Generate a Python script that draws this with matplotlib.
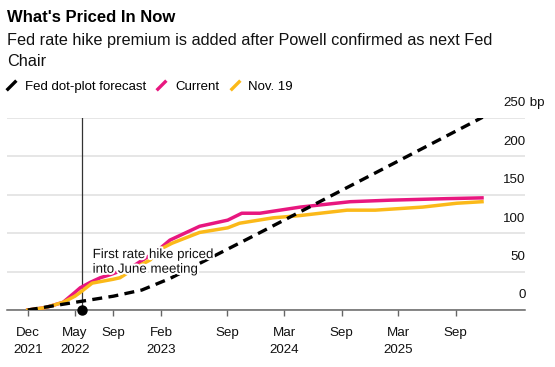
import numpy as np
import pandas as pd
import matplotlib.pyplot as plt
import matplotlib.patheffects as pe
from matplotlib.lines import Line2D

plt.rcParams['font.family'] = ['Liberation Sans', 'DejaVu Sans']

# Fed dot-plot forecast (bp)
dot_dates = pd.to_datetime(['2021-12-15', '2022-03-15', '2022-06-15', '2022-09-15',
                            '2022-12-15', '2023-03-15', '2023-12-15', '2024-12-15',
                            '2025-12-10'])
dot_bp = [0, 6, 12, 18, 26, 41, 98, 175, 251]

# market pricing now
cur_dates = pd.to_datetime(['2021-12-15', '2022-02-08', '2022-04-07', '2022-05-15',
                            '2022-06-01', '2022-07-03', '2022-08-04', '2022-09-05',
                            '2022-11-17', '2023-02-05', '2023-03-15', '2023-06-18',
                            '2023-09-16', '2023-10-31', '2023-12-28', '2024-05-05',
                            '2024-10-12', '2025-02-17', '2025-08-18', '2025-12-08'])
cur_bp = [0, 3, 10, 23, 29, 36, 42, 46, 57, 78, 91, 109, 117, 126, 126, 134,
          141, 143, 145, 146]

# market pricing on Nov. 19
nov_dates = pd.to_datetime(['2021-12-15', '2022-02-08', '2022-04-07', '2022-05-15',
                            '2022-06-01', '2022-07-09', '2022-09-14', '2022-10-06',
                            '2022-12-03', '2023-01-10', '2023-02-21', '2023-03-22',
                            '2023-06-18', '2023-09-16', '2023-10-24', '2024-02-08',
                            '2024-05-05', '2024-10-02', '2024-12-31', '2025-06-01',
                            '2025-09-18', '2025-12-08'])
nov_bp = [0, 3, 10, 18, 23, 35, 40, 42, 57, 65, 81, 87, 101, 107, 113, 120,
          123, 130, 130, 134, 139, 141]

tick_dates = pd.to_datetime(['2021-12-15', '2022-05-15', '2022-09-15', '2023-02-15',
                             '2023-09-15', '2024-03-15', '2024-09-15', '2025-03-15',
                             '2025-09-15'])
tick_labels = ['Dec\n2021', 'May\n2022', 'Sep', 'Feb\n2023', 'Sep', 'Mar\n2024',
               'Sep', 'Mar\n2025', 'Sep']
y_ticks = [0, 50, 100, 150, 200, 250]
hike_date = pd.Timestamp('2022-06-05')

pink = '#e8177f'
yellow = '#fbb919'
grey = '#666666'

fig = plt.figure(figsize=(5.55, 3.67), dpi=100)
ax = fig.add_axes([7/555, 57/367, 518/555, 192/367])

ax.plot(cur_dates, cur_bp, color=pink, lw=2.5, zorder=3)
ax.plot(nov_dates, nov_bp, color=yellow, lw=2.5, zorder=4)
ax.plot(dot_dates, dot_bp, color='black', lw=2.4, dashes=(3.0, 1.9), zorder=5)

ax.axvline(hike_date, color='#333333', lw=0.9, zorder=2)
ax.plot(hike_date, 0, 'o', ms=6.5, color='black', clip_on=False, zorder=6)
ax.annotate('First rate hike priced\ninto June meeting', xy=(hike_date, 62),
            xytext=(8, 0), textcoords='offset points', ha='left', va='center',
            fontsize=9.6, color='#111111', linespacing=1.3, zorder=7,
            path_effects=[pe.withStroke(linewidth=3, foreground='white')])

base = pd.Timestamp('2021-12-15')
ax.set_xlim(base - pd.Timedelta(days=66.6), base + pd.Timedelta(days=1591.6))
ax.set_ylim(0, 250)

ax.set_xticks(tick_dates)
ax.set_xticklabels(tick_labels, fontsize=9.6, linespacing=1.6)
ax.tick_params(axis='x', length=4, width=1, color=grey, pad=8, labelcolor='#111111')
ax.set_yticks(y_ticks)
ax.set_yticklabels([])
ax.tick_params(axis='y', length=0)
ax.grid(axis='y', color='#e2e2e2', lw=1.2)
ax.set_axisbelow(True)
for s in ['top', 'left', 'right']:
    ax.spines[s].set_visible(False)
ax.spines['bottom'].set_color(grey)
ax.spines['bottom'].set_linewidth(1.1)

for v in y_ticks:
    ax.annotate(str(v), xy=(1, v), xycoords=('axes fraction', 'data'),
                xytext=(0.5, 10.5), textcoords='offset points', ha='right',
                va='center', fontsize=9.6, color='#111111')
ax.annotate(' bp', xy=(1, 250), xycoords=('axes fraction', 'data'),
            xytext=(0.5, 10.5), textcoords='offset points', ha='left',
            va='center', fontsize=9.6, color='#111111')

fig.text(7/555, 1 - 17/367, "What's Priced In Now", fontsize=12, fontweight='bold',
         va='center', color='black')
fig.text(7/555, 1 - 40/367, 'Fed rate hike premium is added after Powell confirmed as next Fed',
         fontsize=11.7, va='center', color='#111111')
fig.text(7/555, 1 - 61/367, 'Chair', fontsize=11.7, va='center', color='#111111')

slash = [(-1, -1), (1, 1)]
handles = [Line2D([0], [0], lw=0, marker=slash, ms=7, mew=2.4, color=c)
           for c in ['black', pink, yellow]]
fig.legend(handles, ['Fed dot-plot forecast', 'Current', 'Nov. 19'],
           loc='center left', bbox_to_anchor=(0, 1 - 87/367), ncol=3,
           frameon=False, fontsize=9.5, handlelength=0.9, handletextpad=0.6,
           columnspacing=0.7, numpoints=1, borderaxespad=0)

fig.savefig('out.png', dpi=100)
